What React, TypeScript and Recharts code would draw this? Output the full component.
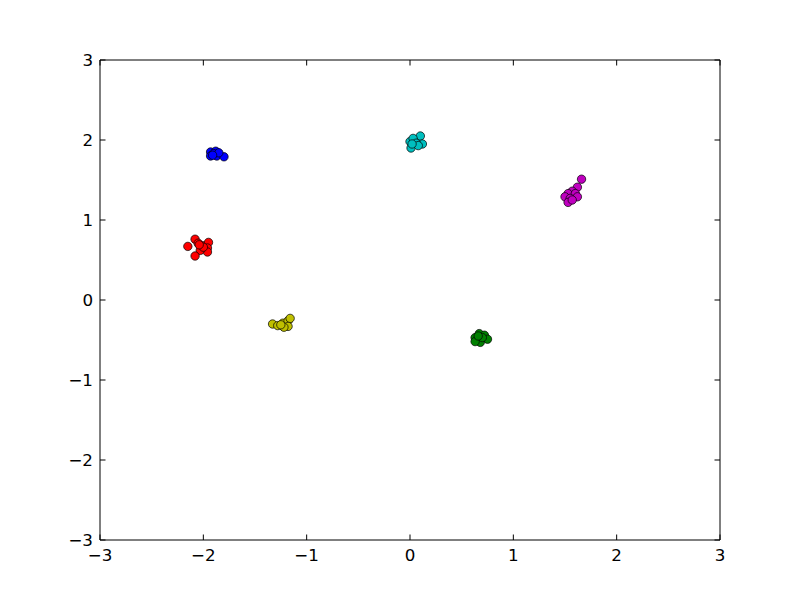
import React from 'react';
import { ScatterChart, Scatter, XAxis, YAxis } from 'recharts';

interface Pt {
    x: number;
    y: number;
}

const axisTicks = [-3, -2, -1, 0, 1, 2, 3];

const blue: Pt[] = [
    { x: -1.93, y: 1.85 }, { x: -1.88, y: 1.86 }, { x: -1.93, y: 1.80 }, { x: -1.87, y: 1.80 },
    { x: -1.80, y: 1.79 }, { x: -1.90, y: 1.83 }, { x: -1.85, y: 1.84 }, { x: -1.91, y: 1.81 },
];
const cyan: Pt[] = [
    { x: 0.0, y: 1.98 }, { x: 0.05, y: 2.0 }, { x: 0.1, y: 2.05 }, { x: 0.03, y: 2.02 },
    { x: 0.12, y: 1.95 }, { x: 0.06, y: 1.96 }, { x: 0.01, y: 1.90 }, { x: 0.08, y: 1.93 },
    { x: 0.02, y: 1.95 },
];
const magenta: Pt[] = [
    { x: 1.66, y: 1.51 }, { x: 1.62, y: 1.41 }, { x: 1.57, y: 1.36 }, { x: 1.53, y: 1.33 },
    { x: 1.60, y: 1.33 }, { x: 1.50, y: 1.29 }, { x: 1.55, y: 1.27 }, { x: 1.53, y: 1.22 },
    { x: 1.62, y: 1.29 }, { x: 1.57, y: 1.25 },
];
const red: Pt[] = [
    { x: -2.15, y: 0.67 }, { x: -2.08, y: 0.76 }, { x: -2.05, y: 0.71 }, { x: -2.01, y: 0.68 },
    { x: -1.95, y: 0.72 }, { x: -1.96, y: 0.65 }, { x: -1.96, y: 0.60 }, { x: -2.03, y: 0.62 },
    { x: -2.08, y: 0.55 }, { x: -2.0, y: 0.66 }, { x: -2.04, y: 0.69 },
];
const yellow: Pt[] = [
    { x: -1.33, y: -0.30 }, { x: -1.28, y: -0.32 }, { x: -1.23, y: -0.29 }, { x: -1.18, y: -0.26 },
    { x: -1.16, y: -0.23 }, { x: -1.18, y: -0.33 }, { x: -1.22, y: -0.34 }, { x: -1.25, y: -0.31 },
];
const green: Pt[] = [
    { x: 0.63, y: -0.47 }, { x: 0.67, y: -0.42 }, { x: 0.72, y: -0.44 }, { x: 0.75, y: -0.49 },
    { x: 0.68, y: -0.53 }, { x: 0.63, y: -0.52 }, { x: 0.70, y: -0.47 }, { x: 0.66, y: -0.45 },
];

const series = [
    { name: 'r', data: red, color: '#ff0000' },
    { name: 'b', data: blue, color: '#0000ff' },
    { name: 'y', data: yellow, color: '#bfbf00' },
    { name: 'c', data: cyan, color: '#00bfbf' },
    { name: 'g', data: green, color: '#008000' },
    { name: 'm', data: magenta, color: '#bf00bf' },
];

const TICK = 5.5;
const FONT = '"DejaVu Sans", sans-serif';

const fmt = (v: number) => (v < 0 ? '\u2212' + Math.abs(v) : String(v));

// ticks point inward like matplotlib classic; labels drawn by hand
const BottomTick = (props: any) => {
    const { x, y, payload } = props;
    return (
        <g>
            <line x1={x} y1={y} x2={x} y2={y - TICK} stroke="#000" strokeWidth={1} />
            <text x={x} y={y + 21} textAnchor="middle" fontSize={16.7} fontFamily={FONT} fill="#000">
                {fmt(payload.value)}
            </text>
        </g>
    );
};

const LeftTick = (props: any) => {
    const { x, y, payload } = props;
    return (
        <g>
            <line x1={x} y1={y} x2={x + TICK} y2={y} stroke="#000" strokeWidth={1} />
            <text x={x - 7} y={y + 6} textAnchor="end" fontSize={16.7} fontFamily={FONT} fill="#000">
                {fmt(payload.value)}
            </text>
        </g>
    );
};

const TopTick = (props: any) => {
    const { x, y } = props;
    return <line x1={x} y1={y} x2={x} y2={y + TICK} stroke="#000" strokeWidth={1} />;
};

const RightTick = (props: any) => {
    const { x, y } = props;
    return <line x1={x} y1={y} x2={x - TICK} y2={y} stroke="#000" strokeWidth={1} />;
};

const Dot = (props: any) => {
    const { cx, cy, fill } = props;
    return <circle cx={cx} cy={cy} r={4.2} fill={fill} stroke="#000" strokeWidth={0.7} />;
};

const axisProps = {
    type: 'number' as const,
    domain: [-3, 3],
    ticks: axisTicks,
    allowDataOverflow: true,
    tickSize: 0,
    tickMargin: 0,
    tickLine: false,
    interval: 0 as const,
    axisLine: { stroke: '#000', strokeWidth: 1 },
};

export default function App() {
    return (
        <div style={{ position: 'absolute', left: 0, top: 0, width: 800, height: 600, background: '#fff' }}>
            <ScatterChart width={800} height={600} margin={{ top: 59, right: 79, bottom: 30, left: 60 }}>
                <XAxis xAxisId="b" dataKey="x" height={30} tick={<BottomTick />} {...axisProps} />
                <XAxis xAxisId="t" orientation="top" dataKey="x" height={1} tick={<TopTick />} {...axisProps} />
                <YAxis yAxisId="l" dataKey="y" width={40} tick={<LeftTick />} {...axisProps} />
                <YAxis yAxisId="r" orientation="right" dataKey="y" width={1} tick={<RightTick />} {...axisProps} />
                {series.map((s) => (
                    <Scatter key={s.name} xAxisId="b" yAxisId="l" data={s.data} fill={s.color}
                        shape={<Dot />} isAnimationActive={false} />
                ))}
                <Scatter xAxisId="t" yAxisId="r" data={[]} isAnimationActive={false} />
            </ScatterChart>
        </div>
    );
}
